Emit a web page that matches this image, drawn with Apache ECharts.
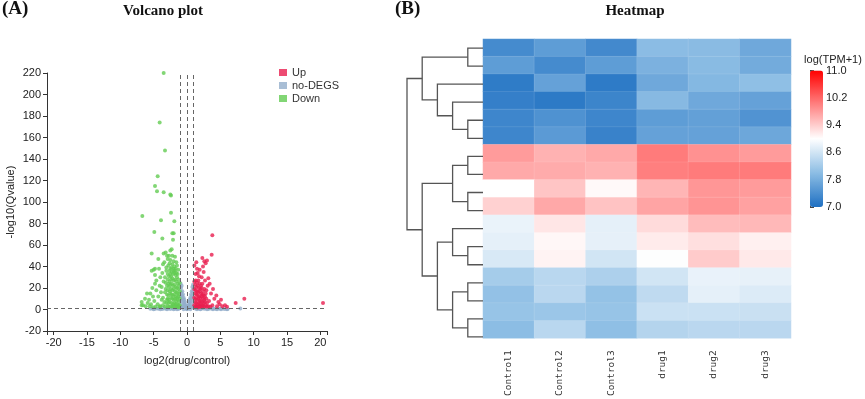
<!DOCTYPE html>
<html>
<head>
<meta charset="utf-8">
<script src="https://cdn.jsdelivr.net/npm/echarts@6/dist/echarts.min.js"></script>
<style>
html,body{margin:0;padding:0;background:#fff}
#chart{width:865px;height:399px}
</style>
</head>
<body>
<div id="chart"></div>
<script>
// ---- volcano plot data: [log2(drug/control), -log10(Qvalue)]
var downPoints = [
  [-3.5,220],[-4.1,174],[-3.3,148],[-4.4,124],[-4.8,115],[-4.5,110],[-3.5,109],[-2.4,106],[-2.5,107],
  [-6.7,87],[-2.4,90],[-3.9,83],[-1.9,82],[-4.9,72],[-2.0,71],[-2.2,71],[-3.7,66],[-2.1,65],
  [-2.3,56],[-2.5,55],[-5.3,52],[-3.5,52],[-3.2,53],[-4.3,47],[-3.0,50],[-2.7,50],[-2.2,50],[-1.8,49],
  [-2.9,47],[-2.5,46],[-3.4,44],[-2.0,45],[-1.6,44],[-4.8,38],[-2.8,41],[-2.2,42],[-1.9,40],[-1.5,41],
  [-3.1,39],[-2.5,38],[-1.3,37],[-2.0,36],[-3.6,42],[-2.6,43],[-1.7,38],[-2.3,39],
  [-6.8,4],[-6.6,4],[-6.3,10],[-6.8,7],[-6.0,15],[-5.7,9],[-5.5,15],[-5.3,36],[-4.8,32],[-5.0,37],
  [-4.8,24],[-4.0,30],[-3.8,21],[-4.6,18],[-5.1,12],[-5.9,6],[-6.2,3],[-5.4,5],[-4.9,8],[-4.3,12],
  [-4.6,27],[-4.1,22],[-3.9,16],[-4.4,5],[-3.7,34],[-3.3,30],[-3.5,26],[-3.6,11],[-3.2,19],[-3.4,7],
  [-4.0,3],[-3.1,36],[-3.8,9],[-5.6,3],[-5.2,20],[-4.2,38],
  [-2.9,28],[-2.7,31],[-2.5,33],[-2.3,35],[-2.1,33],[-1.9,34],[-1.7,32],[-1.5,30],[-1.3,28],[-1.1,25],
  [-2.8,24],[-2.6,26],[-2.4,28],[-2.2,29],[-2.0,27],[-1.8,28],[-1.6,26],[-1.4,24],[-1.2,22],
  [-3.0,22],[-2.7,21],[-2.5,23],[-2.3,24],[-2.1,22],[-1.9,23],[-1.7,21],[-1.5,20],[-1.3,19],[-1.1,17],
  [-2.9,18],[-2.6,17],[-2.4,19],[-2.2,18],[-2.0,19],[-1.8,17],[-1.6,16],[-1.4,15],[-1.2,14],
  [-3.0,14],[-2.8,13],[-2.5,15],[-2.3,14],[-2.1,13],[-1.9,14],[-1.7,12],[-1.5,11],[-1.3,12],[-1.1,10],
  [-2.9,10],[-2.7,9],[-2.4,11],[-2.2,10],[-2.0,9],[-1.8,10],[-1.6,8],[-1.4,9],[-1.2,7],
  [-3.1,6],[-2.8,6],[-2.6,7],[-2.3,6],[-2.1,5],[-1.9,6],[-1.7,5],[-1.5,5],[-1.3,4],[-1.1,4],
  [-2.9,3],[-2.7,2.5],[-2.4,3],[-2.2,2.5],[-2.0,3],[-1.8,2.5],[-1.6,2.5],[-1.4,2],[-1.2,2],
  [-3.3,2.5],[-3.6,4],[-4.1,2.5],[-4.7,2.5],[-5.1,2],
  [-2.6,36],[-2.0,38],[-1.8,36],[-2.4,31],[-1.6,34],[-1.4,33],[-2.9,33],[-3.2,25],[-3.3,16],[-3.0,9]
];
var upPoints = [
  [3.8,69],[3.7,51],[2.3,48],[1.4,44],[2.6,45],[2.8,43],[3.0,45.5],[1.1,41],[1.5,38],[1.9,37],
  [1.6,34],[2.2,30],[3.2,29],[3.4,24],[2.9,18],[3.9,19],[4.4,13],[4.7,7],[5.7,4],[7.3,6],[8.6,10],[20.4,6],
  [2.5,35],[1.3,33],[2.7,27],[3.6,15],[4.1,10],[3.3,8],[4.9,5],[5.3,3],[6.0,2.5],[4.5,3],[3.8,4],
  [5.1,9],[2.4,40],[1.8,31],[3.1,22],
  [1.1,26],[1.3,27],[1.5,25],[1.7,27],[1.9,24],[2.1,22],[2.3,24],[1.2,23],[1.4,21],[1.6,22],[1.8,20],
  [2.0,19],[2.2,20],[2.4,17],[2.6,19],[2.8,15],
  [1.1,19],[1.3,18],[1.5,17],[1.7,16],[1.9,17],[2.1,15],[2.3,14],[2.5,13],[2.7,12],[1.2,15],[1.4,14],
  [1.6,13],[1.8,12],[2.0,11],[2.2,12],[2.4,10],[2.6,9],[2.9,10],
  [1.1,11],[1.3,10],[1.5,9],[1.7,10],[1.9,8],[2.1,8],[2.3,7],[2.5,6],[2.7,7],[3.0,6],[1.2,7],[1.4,6],
  [1.6,5],[1.8,6],[2.0,5],[2.2,4],[2.4,3.5],[2.8,4],[3.2,3],
  [1.1,4],[1.3,3],[1.5,2.5],[1.7,3],[1.9,2.5],[2.1,2.5],[2.6,2.5],[3.0,2.5],[3.5,2.5],[1.2,2],[1.6,1.8],[2.3,2]
];
var noDegPoints = [
  [-0.95,24],[-0.9,20],[-0.85,16],[-0.8,22],[-0.75,13],[-0.7,17],[-0.65,10],[-0.6,14],[-0.55,8],[-0.5,11],
  [-0.45,6],[-0.4,9],[-0.35,5],[-0.3,7],[-0.25,3],[-0.2,4],[-0.15,2],[-0.1,1.5],[-0.05,0.8],[0,0.3],
  [-0.9,8],[-0.8,5],[-0.7,3],[-0.95,12],[-0.6,2],[-0.85,2],
  [0.05,0.8],[0.1,1.5],[0.15,2],[0.2,4],[0.25,3],[0.3,7],[0.35,5],[0.4,9],[0.45,6],[0.5,11],[0.55,8],
  [0.6,14],[0.65,10],[0.7,17],[0.75,13],[0.8,21],[0.85,16],[0.9,23],[0.95,19],[0.9,7],[0.8,4],[0.7,2.5],
  [0.95,11],[0.6,2],
  [-5.5,0.6],[-5.2,1.0],[-4.9,0.5],[-4.6,0.9],[-4.3,0.6],[-4.0,1.1],[-3.7,0.5],[-3.4,0.9],[-3.1,0.6],
  [-2.8,1.0],[-2.5,0.5],[-2.2,0.9],[-1.9,0.6],[-1.6,1.0],[-1.3,0.5],[-1.1,1.2],[1.1,1.1],[1.4,0.6],
  [1.7,1.0],[2.0,0.5],[2.3,0.9],[2.6,0.6],[2.9,1.0],[3.2,0.5],[3.5,0.9],[3.8,0.6],[4.1,1.0],[4.4,0.5],
  [4.7,0.9],[5.0,0.6],[5.3,1.0],[5.6,0.5],[5.9,0.8],[6.1,0.4],[8.0,1.0],[-5.0,0.2],[-3.0,0.2],[-1.5,0.2],
  [0.5,0.2],[-0.5,0.2],[1.5,0.2],[3.0,0.2],[4.5,0.2],[6.0,0.2],[-4.0,0.2],[-2.0,0.2],[2.0,0.2],[3.9,0.2],[5.1,0.2]
];
var foldCutoffs = [-1, 0, 1];
var qCutoff = 1.3;
var volcanoXTicks = [-21, -20, -15, -10, -5, 0, 5, 10, 15, 20, 21];
var volcanoXLabels = [-20, -15, -10, -5, 0, 5, 10, 15, 20];

// ---- heatmap data: log(TPM+1), rows top to bottom
var samples = ['Control1', 'Control2', 'Control3', 'drug1', 'drug2', 'drug3'];
var rowIds = ['g1','g2','g3','g4','g5','g6','g7','g8','g9','g10','g11','g12','g13','g14','g15','g16','g17'];
var tpmRows = [
  [7.35, 7.58, 7.33, 7.99, 7.98, 7.73],
  [7.58, 7.35, 7.58, 7.85, 7.97, 7.77],
  [7.15, 7.64, 7.14, 7.73, 7.93, 8.03],
  [7.20, 7.13, 7.27, 7.95, 7.73, 7.64],
  [7.28, 7.44, 7.28, 7.58, 7.62, 7.46],
  [7.28, 7.55, 7.24, 7.64, 7.64, 7.72],
  [9.80, 9.62, 9.69, 10.05, 9.88, 9.80],
  [9.69, 9.67, 9.62, 10.02, 10.05, 10.05],
  [9.00, 9.46, 9.05, 9.59, 9.84, 9.80],
  [9.37, 9.70, 9.48, 9.73, 9.86, 9.75],
  [8.82, 9.20, 8.77, 9.29, 9.54, 9.57],
  [8.77, 9.06, 8.78, 9.16, 9.26, 9.12],
  [8.66, 9.10, 8.60, 8.98, 9.42, 9.18],
  [8.22, 8.39, 8.29, 8.60, 8.81, 8.79],
  [8.06, 8.40, 8.07, 8.44, 8.77, 8.70],
  [8.10, 8.13, 8.10, 8.54, 8.54, 8.53],
  [8.00, 8.39, 8.03, 8.35, 8.40, 8.40]
];
// row clustering: [childA, childB, height]; ids < 17 are rows, 17.. are earlier merges
var merges = [
  [0, 1, 1], [4, 5, 1], [3, 18, 2], [2, 19, 3], [17, 20, 4],
  [6, 7, 1], [8, 9, 1], [22, 23, 2],
  [11, 12, 1], [10, 25, 2], [13, 14, 1], [15, 16, 1], [27, 28, 2], [26, 29, 3],
  [24, 30, 4], [21, 31, 5]
];
var colorbarTicks = [7.0, 7.8, 8.6, 9.4, 10.2, 11.0];

// build heatmap cells
var heatData = [];
tpmRows.forEach(function (row, r) {
  row.forEach(function (v, c) { heatData.push([c, r, v]); });
});

// build dendrogram polylines from merges
var nodes = rowIds.map(function (id, i) { return { y: i, h: 0 }; });
var dendroLines = [];
merges.forEach(function (m) {
  var a = nodes[m[0]], b = nodes[m[1]], h = m[2];
  dendroLines.push({ coords: [[a.h, a.y], [h, a.y], [h, b.y], [b.h, b.y]] });
  nodes.push({ y: (a.y + b.y) / 2, h: h });
});

var axisText = { fontFamily: 'Liberation Sans', fontSize: 11, color: '#222' };
var serif = 'Liberation Serif';

var option = {
  animation: false,
  backgroundColor: '#fff',
  title: [
    { text: '(A)', left: 2, top: 0, padding: 0, textStyle: { fontFamily: serif, fontWeight: 'bold', fontSize: 19, color: '#111' } },
    { text: 'Volcano plot', left: 163, top: 4, padding: 0, textAlign: 'center', textStyle: { fontFamily: serif, fontWeight: 'bold', fontSize: 15, color: '#111' } },
    { text: '(B)', left: 395, top: 0, padding: 0, textStyle: { fontFamily: serif, fontWeight: 'bold', fontSize: 19, color: '#111' } },
    { text: 'Heatmap', left: 635, top: 4, padding: 0, textAlign: 'center', textStyle: { fontFamily: serif, fontWeight: 'bold', fontSize: 15, color: '#111' } },
    { text: 'log(TPM+1)', left: 833, top: 54, padding: 0, textAlign: 'center', textStyle: { fontFamily: 'Liberation Sans', fontWeight: 'normal', fontSize: 11, color: '#222' } }
  ],
  legend: {
    orient: 'vertical', left: 279, top: 67, padding: 0,
    itemWidth: 8, itemHeight: 7, itemGap: 2, icon: 'rect',
    textStyle: { fontFamily: 'Liberation Sans', fontSize: 11, color: '#333' },
    data: ['Up', 'no-DEGS', 'Down']
  },
  grid: [
    { left: 47, top: 73, width: 280, height: 258 },
    { left: 483, top: 39, width: 308, height: 307 },
    { left: 407, top: 39, width: 76, height: 307 },
    { left: 810, top: 70.5, width: 13, height: 136.5 }
  ],
  xAxis: [
    {
      gridIndex: 0, type: 'value', min: -21, max: 21,
      name: 'log2(drug/control)', nameLocation: 'middle', nameGap: 24, nameTextStyle: axisText,
      axisLine: { show: true, onZero: false, lineStyle: { color: '#333' } },
      axisTick: { show: true, length: 4, customValues: volcanoXTicks, lineStyle: { color: '#333' } },
      axisLabel: Object.assign({ margin: 6, customValues: volcanoXLabels }, axisText),
      splitLine: { show: false }
    },
    {
      gridIndex: 1, type: 'category', data: samples,
      axisLine: { show: false }, axisTick: { show: false },
      axisLabel: { rotate: 90, margin: 12, fontFamily: 'DejaVu Sans Mono', fontSize: 9.5, color: '#333' }
    },
    { gridIndex: 2, type: 'value', min: 0, max: 5, inverse: true, show: false },
    { gridIndex: 3, type: 'value', min: 0, max: 1, show: false }
  ],
  yAxis: [
    {
      gridIndex: 0, type: 'value', min: -20, max: 220, interval: 20,
      name: '-log10(Qvalue)', nameLocation: 'middle', nameGap: 31, nameTextStyle: axisText,
      axisLine: { show: true, onZero: false, lineStyle: { color: '#333' } },
      axisTick: { show: true, length: 4, lineStyle: { color: '#333' } },
      axisLabel: Object.assign({ margin: 6 }, axisText),
      splitLine: { show: false }
    },
    { gridIndex: 1, type: 'category', data: rowIds, inverse: true, show: false },
    { gridIndex: 2, type: 'value', min: -0.5, max: 16.5, inverse: true, show: false },
    {
      gridIndex: 3, type: 'value', min: 7, max: 11, position: 'right',
      axisLine: { show: true, lineStyle: { color: '#444' } },
      axisTick: { show: true, length: 4, customValues: colorbarTicks, lineStyle: { color: '#444' } },
      axisLabel: {
        customValues: colorbarTicks, margin: 3, fontFamily: 'Liberation Sans', fontSize: 11, color: '#222',
        formatter: function (v) { return v.toFixed(1); }
      },
      splitLine: { show: false }
    }
  ],
  visualMap: {
    type: 'continuous', seriesIndex: 3, min: 7, max: 11,
    calculable: false, left: 810, top: 70.5, padding: 0,
    itemWidth: 13, itemHeight: 136.5,
    inRange: { color: ['#1f70c2', '#8cbde4', '#ffffff', '#ff8282', '#ff0000'] },
    textStyle: { color: 'transparent' }
  },
  series: [
    {
      name: 'no-DEGS', type: 'scatter', xAxisIndex: 0, yAxisIndex: 0,
      data: noDegPoints, symbolSize: 4, itemStyle: { color: '#93aecb' }
    },
    {
      name: 'Down', type: 'scatter', xAxisIndex: 0, yAxisIndex: 0,
      data: downPoints, symbolSize: 4, itemStyle: { color: '#63cc52' }
    },
    {
      name: 'Up', type: 'scatter', xAxisIndex: 0, yAxisIndex: 0,
      data: upPoints, symbolSize: 4, itemStyle: { color: '#e81e4f' },
      markLine: {
        silent: true, symbol: ['none', 'none'], label: { show: false },
        lineStyle: { type: [4, 3], color: '#666', width: 1 },
        data: foldCutoffs.map(function (v) { return { xAxis: v }; }).concat([{ yAxis: qCutoff }])
      }
    },
    {
      name: 'heat', type: 'heatmap', xAxisIndex: 1, yAxisIndex: 1,
      data: heatData,
      itemStyle: { borderColor: 'rgba(255,255,255,0.2)', borderWidth: 0.5 }
    },
    {
      name: 'tree', type: 'lines', coordinateSystem: 'cartesian2d', xAxisIndex: 2, yAxisIndex: 2,
      polyline: true, data: dendroLines,
      lineStyle: { color: '#555', width: 1.3, opacity: 1 }
    }
  ]
};

var chart = echarts.init(document.getElementById('chart'));
chart.setOption(option);
</script>
</body>
</html>
